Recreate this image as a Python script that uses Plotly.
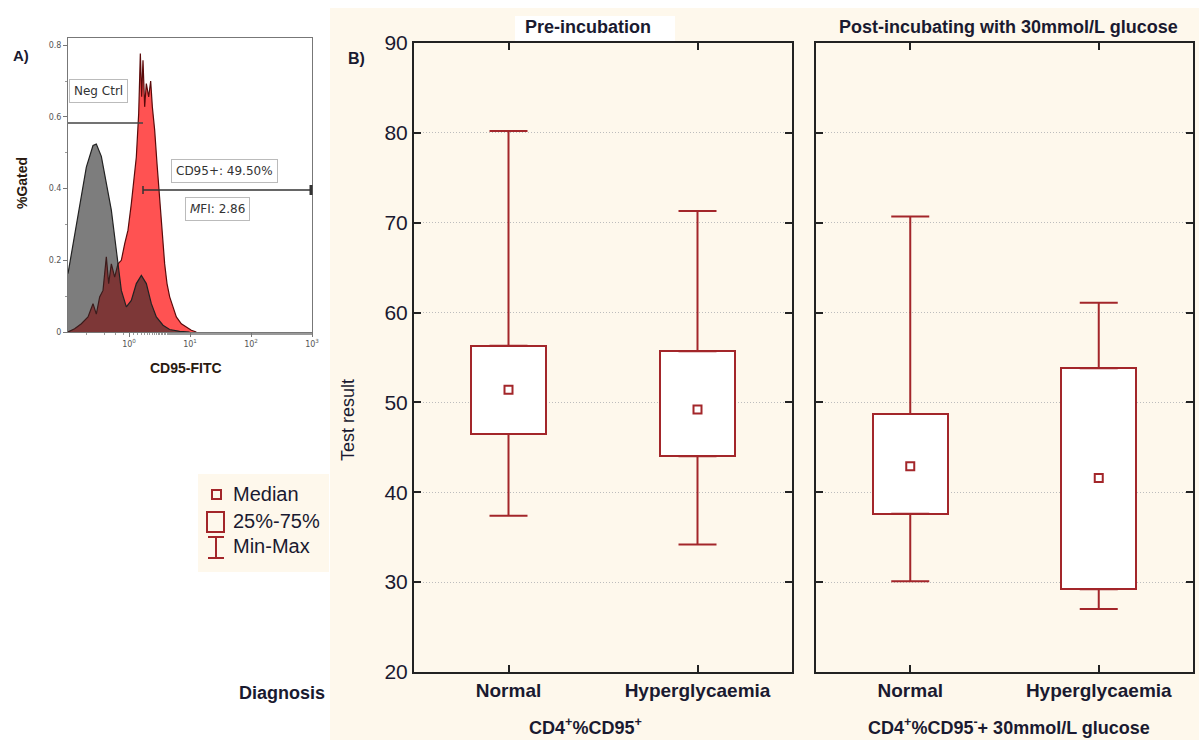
import plotly.graph_objects as go

W, H = 1199, 740

# ---------------- Panel B data (box summaries) ----------------
categories = ["Normal", "Hyperglycaemia"]
pre_min = [37.4, 34.2]
pre_q1 = [46.5, 44.0]
pre_median = [51.4, 49.2]
pre_q3 = [56.3, 55.7]
pre_max = [80.2, 71.3]

post_min = [30.1, 27.0]
post_q1 = [37.6, 29.2]
post_median = [42.9, 41.6]
post_q3 = [48.7, 53.8]
post_max = [70.7, 61.1]

y_ticks = [20, 30, 40, 50, 60, 70, 80, 90]

# ---------------- Panel A data (flow histogram) ----------------
neg_x = [0.100, 0.1208, 0.1553, 0.1998, 0.2570, 0.2913, 0.3519, 0.4250, 0.5133, 0.6199,
         0.7486, 0.9043, 1.092, 1.319, 1.593, 1.924, 2.323, 2.806, 3.610, 4.642, 6.769, 9.874]
neg_y = [0.163, 0.246, 0.358, 0.460, 0.520, 0.524, 0.490, 0.420, 0.340, 0.228,
         0.116, 0.070, 0.088, 0.135, 0.158, 0.135, 0.079, 0.042, 0.019, 0.007, 0.002, 0.0]

cd95_x = [0.100, 0.1285, 0.1655, 0.2129, 0.2570, 0.2913, 0.3304, 0.3748, 0.4250, 0.4642,
          0.5133, 0.5821, 0.6602, 0.7486, 0.8492, 0.9630, 1.092, 1.208, 1.319, 1.441,
          1.534, 1.613, 1.696, 1.806, 1.924, 2.101, 2.266, 2.413, 2.635, 2.877,
          3.181, 3.519, 3.843, 4.198, 4.642, 5.264, 5.970, 7.210, 8.708, 10.52, 12.70]
cd95_y = [0.0, 0.009, 0.023, 0.042, 0.079, 0.050, 0.098, 0.116, 0.210, 0.135,
          0.190, 0.153, 0.190, 0.200, 0.246, 0.284, 0.358, 0.423, 0.488, 0.609,
          0.777, 0.656, 0.758, 0.628, 0.693, 0.656, 0.700, 0.628, 0.563, 0.470,
          0.377, 0.284, 0.190, 0.135, 0.098, 0.070, 0.042, 0.023, 0.014, 0.005, 0.0]

hist_y_ticks = [0, 0.2, 0.4, 0.6, 0.8]
hist_x_ticks = [1, 10, 100, 1000]
hist_x_labels = ["10<sup>0</sup>", "10<sup>1</sup>", "10<sup>2</sup>", "10<sup>3</sup>"]

RED = "#a3262a"
TXT = "#1a1a30"
CREAM = "#fef8ec"
FONT = "Liberation Sans, Arial, sans-serif"


def P(x, y):
    return x / W, 1 - y / H


fig = go.Figure()

# ---- Panel A traces ----
fig.add_trace(go.Scatter(x=cd95_x, y=cd95_y, mode="lines", fill="tozeroy",
                         line=dict(color="#5a0a0a", width=1.2), fillcolor="rgb(255,82,82)",
                         xaxis="x", yaxis="y", showlegend=False, hoverinfo="skip"))
fig.add_trace(go.Scatter(x=neg_x, y=neg_y, mode="lines", fill="tozeroy",
                         line=dict(color="#222222", width=1.2), fillcolor="rgba(38,38,38,0.6)",
                         xaxis="x", yaxis="y", showlegend=False, hoverinfo="skip"))

# ---- Panel B traces ----
xs = [0, 1]
for (mn, q1, md, q3, mx, xa, ya) in [
    (pre_min, pre_q1, pre_median, pre_q3, pre_max, "x2", "y2"),
    (post_min, post_q1, post_median, post_q3, post_max, "x3", "y3"),
]:
    fig.add_trace(go.Bar(x=xs, y=[b - a for a, b in zip(q1, q3)], base=q1, width=0.40,
                         marker=dict(color="white", line=dict(color=RED, width=2)),
                         xaxis=xa, yaxis=ya, showlegend=False, hoverinfo="skip"))
    fig.add_trace(go.Scatter(x=xs, y=q3, mode="markers",
                             marker=dict(size=1, color="rgba(0,0,0,0)"),
                             error_y=dict(type="data", symmetric=False,
                                          array=[b - a for a, b in zip(q3, mx)],
                                          arrayminus=[0, 0], color=RED, thickness=2, width=19),
                             xaxis=xa, yaxis=ya, showlegend=False, hoverinfo="skip"))
    fig.add_trace(go.Scatter(x=xs, y=q1, mode="markers",
                             marker=dict(size=1, color="rgba(0,0,0,0)"),
                             error_y=dict(type="data", symmetric=False,
                                          array=[0, 0],
                                          arrayminus=[a - b for a, b in zip(q1, mn)],
                                          color=RED, thickness=2, width=19),
                             xaxis=xa, yaxis=ya, showlegend=False, hoverinfo="skip"))
    fig.add_trace(go.Scatter(x=xs, y=md, mode="markers",
                             marker=dict(symbol="square", size=8, color="white",
                                         line=dict(color=RED, width=2)),
                             xaxis=xa, yaxis=ya, showlegend=False, hoverinfo="skip"))

# ---- axes ----
common_y = dict(range=[20, 90], tickvals=y_ticks, showgrid=True, gridcolor="#bdbdbd",
                griddash="1px,2px", gridwidth=1, zeroline=False, showline=True, mirror="ticks",
                linecolor="#222222", linewidth=2, ticks="inside", ticklen=7, tickwidth=2,
                tickcolor="#222222", fixedrange=True, automargin=False)
common_x = dict(range=[-0.5, 1.5], tickvals=[0, 1],
                ticktext=["<b>" + c + "</b>" for c in categories],
                tickfont=dict(family=FONT, size=19, color=TXT), showgrid=False, zeroline=False,
                showline=True, mirror="ticks", linecolor="#222222", linewidth=2, ticks="inside",
                ticklen=7, tickwidth=2, tickcolor="#222222", fixedrange=True, automargin=False)

fig.update_layout(
    template="none",
    width=W, height=H, autosize=False,
    margin=dict(l=0, r=0, t=0, b=0, pad=0, autoexpand=False),
    paper_bgcolor="white", plot_bgcolor="white", bargap=0,
    xaxis=dict(domain=[68 / W, 312 / W], type="log", range=[-1, 3], anchor="y",
               tickvals=hist_x_ticks, ticktext=hist_x_labels, automargin=False,
               tickfont=dict(family="DejaVu Sans", size=8, color="#555555"),
               showgrid=False, zeroline=False, showline=True, mirror=True, linecolor="#777777",
               linewidth=1, ticks="outside", ticklen=4, tickcolor="#777777",
               minor=dict(ticks="outside", ticklen=2, tickcolor="#999999", showgrid=False)),
    yaxis=dict(domain=[1 - 332 / H, 1 - 38 / H], range=[0, 0.82], anchor="x",
               tickvals=hist_y_ticks, ticktext=["0", "0.2", "0.4", "0.6", "0.8"], automargin=False,
               tickfont=dict(family="DejaVu Sans", size=8, color="#555555"),
               showgrid=False, zeroline=False, showline=True, mirror=True, linecolor="#777777",
               linewidth=1, ticks="outside", ticklen=4, tickcolor="#777777",
               minor=dict(dtick=0.1, ticks="outside", ticklen=2, tickcolor="#999999", showgrid=False)),
    xaxis2=dict(domain=[414 / W, 792 / W], anchor="y2", **common_x),
    yaxis2=dict(domain=[1 - 672 / H, 1 - 43 / H], anchor="x2", showticklabels=True,
                tickfont=dict(family=FONT, size=21, color=TXT), **common_y),
    xaxis3=dict(domain=[816 / W, 1193 / W], anchor="y3", **common_x),
    yaxis3=dict(domain=[1 - 672 / H, 1 - 43 / H], anchor="x3", showticklabels=False, **common_y),
)

shapes = []
shapes.append(dict(type="rect", xref="paper", yref="paper", layer="below",
                   x0=330 / W, x1=1.0, y0=0, y1=1 - 8 / H, fillcolor=CREAM, line=dict(width=0)))
shapes.append(dict(type="rect", xref="paper", yref="paper", layer="below",
                   x0=515 / W, x1=675 / W, y0=1 - 41 / H, y1=1 - 16 / H, fillcolor="white", line=dict(width=0)))
x0, y0 = P(198, 474)
x1, y1 = P(329, 572)
shapes.append(dict(type="rect", xref="paper", yref="paper", layer="below",
                   x0=x0, x1=x1, y0=y1, y1=y0, fillcolor=CREAM, line=dict(width=0)))


def rect_px(xa, ya, xb, yb, color, width=2):
    a, b = P(xa, ya)
    c, d = P(xb, yb)
    return dict(type="rect", xref="paper", yref="paper", x0=a, x1=c, y0=d, y1=b,
                line=dict(color=color, width=width), fillcolor="rgba(0,0,0,0)")


def line_px(xa, ya, xb, yb, color, width=2):
    a, b = P(xa, ya)
    c, d = P(xb, yb)
    return dict(type="line", xref="paper", yref="paper", x0=a, x1=c, y0=b, y1=d,
                line=dict(color=color, width=width))


shapes.append(rect_px(212, 490, 221, 499, RED, 2))
shapes.append(rect_px(207, 512, 224, 532, RED, 2))
shapes.append(line_px(216, 537, 216, 558, RED, 2))
shapes.append(line_px(208, 537, 224, 537, RED, 2))
shapes.append(line_px(208, 558, 224, 558, RED, 2))

shapes.append(line_px(68, 123, 143, 123, "#444444", 1.5))
shapes.append(line_px(143, 190, 311, 190, "#333333", 1.5))
shapes.append(line_px(143, 186, 143, 194, "#333333", 1.5))
shapes.append(line_px(311, 185, 311, 195, "#333333", 3))

fig.update_layout(shapes=shapes)

ann = []


def text(x, y, s, size, bold=False, color=TXT, family=FONT, angle=0, xanchor="center", **kw):
    a, b = P(x, y)
    ann.append(dict(xref="paper", yref="paper", x=a, y=b, text=("<b>" + s + "</b>") if bold else s,
                    showarrow=False, xanchor=xanchor, yanchor="middle", textangle=angle,
                    font=dict(family=family, size=size, color=color), **kw))


text(21, 55, "A)", 15, bold=True)
text(22, 183, "%Gated", 14, bold=True, color="#2a1a10", angle=-90)
text(186, 368, "CD95-FITC", 14, bold=True, color="#2a1a10")
text(98, 91, "Neg Ctrl", 12, family="DejaVu Sans", color="#333333",
     bgcolor="white", bordercolor="#bbbbbb", borderwidth=1, borderpad=4)
text(224, 171, "CD95+: 49.50%", 12, family="DejaVu Sans", color="#333333",
     bgcolor="white", bordercolor="#bbbbbb", borderwidth=1, borderpad=4)
text(217, 209, "<i>M</i>FI: 2.86", 12, family="DejaVu Sans", color="#333333",
     bgcolor="white", bordercolor="#bbbbbb", borderwidth=1, borderpad=4)

text(356, 59, "B)", 16, bold=True)
text(348, 420, "Test result", 18, angle=-90)
text(588, 27, "Pre-incubation", 18, bold=True)
text(1008, 27, "Post-incubating with 30mmol/L glucose", 18, bold=True)
text(282, 693, "Diagnosis", 18, bold=True)
text(585, 726, "CD4<sup>+</sup>%CD95<sup>+</sup>", 18, bold=True)
text(1009, 726, "CD4<sup>+</sup>%CD95<sup>-</sup>+ 30mmol/L glucose", 18, bold=True)

text(231, 494, "Median", 20, xanchor="left")
text(231, 521, "25%-75%", 20, xanchor="left")
text(231, 546, "Min-Max", 20, xanchor="left")

fig.update_layout(annotations=ann)

fig.write_html("out.html",
               config={"displayModeBar": False, "responsive": False},
               post_script="document.body.style.margin='0';document.body.style.padding='0';"
                           "document.documentElement.style.overflow='hidden';")
